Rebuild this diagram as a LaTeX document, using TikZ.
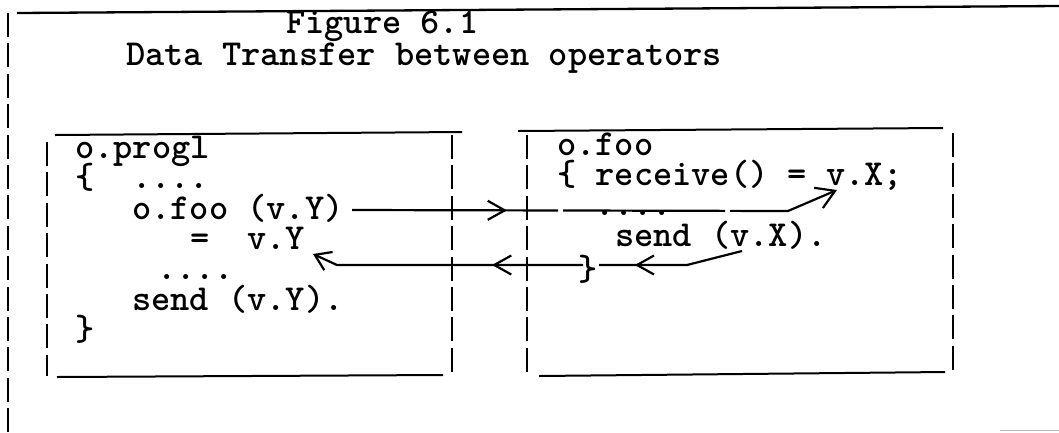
\documentclass[tikz,border=0pt]{standalone}
\usetikzlibrary{arrows.meta,decorations.markings}
\newcommand\codefont{\ttfamily\bfseries\fontsize{36.6}{36.6}\selectfont}
\begin{document}
\begin{tikzpicture}[x=1pt,y=-1pt,
  txt/.style={font=\codefont, inner sep=0pt, anchor=base west},
  rule/.style={line width=2pt},
  bar/.style={line width=2.4pt, dash pattern=on 24pt off 6.4pt},
  link/.style={line width=2.2pt},
  midtip/.style={postaction={decorate, decoration={markings,
      mark=at position #1 with {\arrow{Straight Barb[length=17pt,width=19pt]}}}}}
]
\useasboundingbox (0,0) rectangle (1059,432);

% outer frame: typed rule along the top, typed bars down the left
\draw[rule, line width=2.3pt] (17,13) -- (1059,6);
\draw[bar] (8,13) -- (8,432);
\draw[gray!55, line width=1.5pt] (1000,430.5) -- (1059,430.5);

% title
\node[txt] (fig)   at (286,33) {Figure 6.1};
\node[txt] (title) at (126,65) {Data Transfer between operators};

% left box: o.progl
\draw[rule] (55,135) -- (462,132);
\draw[bar] (47,142) -- (47,376);
\draw[bar] (452,135) -- (452,376);
\draw[rule] (57,377) -- (443,375);

\node[txt] (pname)  at (75,158)  {o.progl};
\node[txt] (pbrace) at (75,188)  {\{};
\node[txt] (pdots1) at (132,188) {....};
\node[txt] (pcall)  at (132,219) {o.foo (v.Y)};
\node[txt] (peq)    at (190,249) {=};
\node[txt] (pvY)    at (247,249) {v.Y};
\node[txt] (pdots2) at (157,279) {....};
\node[txt] (psend)  at (132,310) {send (v.Y).};
\node[txt] (pend)   at (75,340)  {\}};

% right box: o.foo
\draw[rule] (518,131) -- (943,128);
\draw[bar] (527,135) -- (527,374);
\draw[bar] (953,133) -- (953,372);
\draw[rule] (539,376) -- (945,372);

\node[txt] (fname)  at (557,155) {o.foo};
\node[txt] (frecv)  at (557,185) {\{ receive() = v.X;};
\node[txt] (fdots)  at (595,215) {....};
\node[txt] (fsend)  at (615,246) {send (v.X).};
\node[txt] (fend)   at (578,280) {\}};

% connector end points
\coordinate (callOut) at (352,210);
\coordinate (bendA)   at (788,211);
\coordinate (vXin)    at (837,190);
\coordinate (vXout)   at (742,251);
\coordinate (bendB)   at (687,265);
\coordinate (braceIn) at (599,265);
\coordinate (braceOut) at (583,265);
\coordinate (bendC)   at (337,265);
\coordinate (vYin)    at (313,254);

% call: argument v.Y passed to receive() = v.X
\draw[link, dash pattern=on 206pt off 5pt on 162pt off 5pt on 2000pt,
      midtip=155pt, -{Straight Barb[length=18pt,width=22pt]}]
  (callOut) -- (bendA) -- (vXin);

% reply: v.X sent back into the closing brace ...
\draw[link, midtip=109pt] (vXout) -- (bendB) -- (braceIn);
% ... and returned to v.Y
\draw[link, midtip=91pt, -{Straight Barb[length=15pt,width=20pt]}]
  (braceOut) -- (bendC) -- (vYin);
\end{tikzpicture}
\end{document}
